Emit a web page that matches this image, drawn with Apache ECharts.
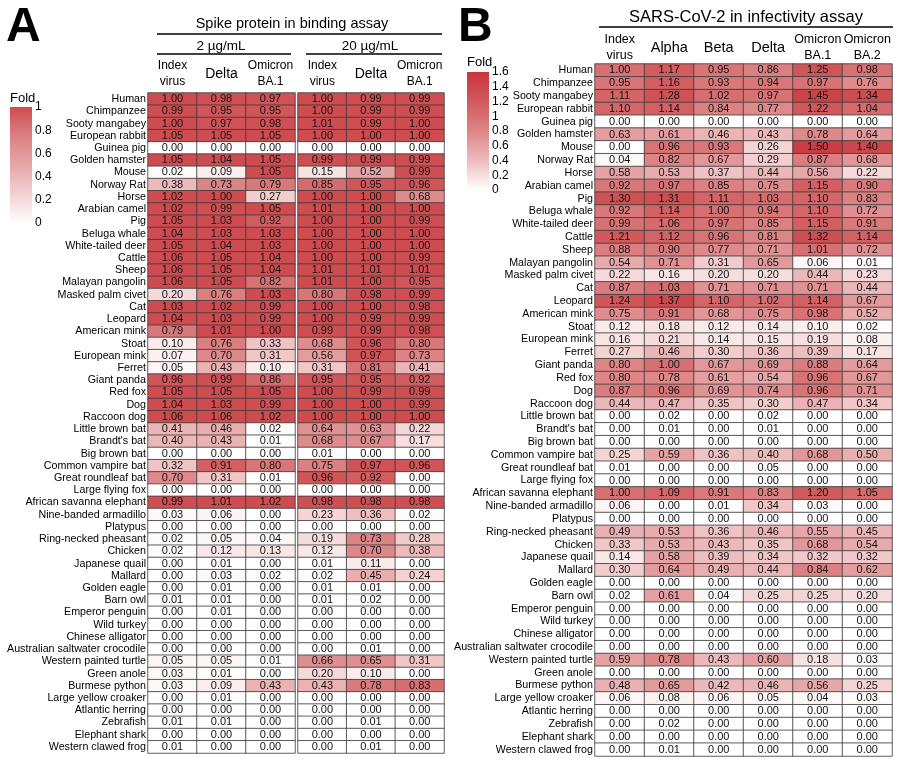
<!DOCTYPE html>
<html><head><meta charset="utf-8">
<script src="https://cdn.jsdelivr.net/npm/echarts@6/dist/echarts.min.js"></script>
<style>html,body{margin:0;padding:0;background:#fff}#c{width:900px;height:759px}</style>
</head><body><div id="c"></div>
<script>
const species = ['Human','Chimpanzee','Sooty mangabey','European rabbit','Guinea pig','Golden hamster','Mouse','Norway Rat','Horse','Arabian camel','Pig','Beluga whale','White-tailed deer','Cattle','Sheep','Malayan pangolin','Masked palm civet','Cat','Leopard','American mink','Stoat','European mink','Ferret','Giant panda','Red fox','Dog','Raccoon dog','Little brown bat',"Brandt's bat",'Big brown bat','Common vampire bat','Great roundleaf bat','Large flying fox','African savanna elephant','Nine-banded armadillo','Platypus','Ring-necked pheasant','Chicken','Japanese quail','Mallard','Golden eagle','Barn owl','Emperor penguin','Wild turkey','Chinese alligator','Australian saltwater crocodile','Western painted turtle','Green anole','Burmese python','Large yellow croaker','Atlantic herring','Zebrafish','Elephant shark','Western clawed frog'];

const colsA = ['Index\nvirus','Delta','Omicron\nBA.1'];
const colsB = ['Index\nvirus','Alpha','Beta','Delta','Omicron\nBA.1','Omicron\nBA.2'];

// Panel A, 2 µg/mL
const a2Index = [1.00,0.99,1.00,1.05,0.00,1.05,0.02,0.38,1.02,1.02,1.05,1.04,1.05,1.06,1.06,1.06,0.20,1.03,1.04,0.79,0.10,0.07,0.05,0.96,1.05,1.04,1.06,0.41,0.40,0.00,0.32,0.70,0.00,0.99,0.03,0.00,0.02,0.02,0.00,0.00,0.00,0.01,0.00,0.00,0.00,0.00,0.05,0.03,0.03,0.00,0.00,0.01,0.00,0.01];
const a2Delta = [0.98,0.95,0.97,1.05,0.00,1.04,0.09,0.73,1.00,0.99,1.03,1.03,1.04,1.05,1.05,1.05,0.76,1.02,1.03,1.01,0.76,0.70,0.43,0.99,1.05,1.03,1.06,0.46,0.43,0.00,0.91,0.31,0.00,1.01,0.06,0.00,0.05,0.12,0.01,0.03,0.01,0.01,0.01,0.00,0.00,0.00,0.05,0.01,0.09,0.01,0.00,0.01,0.00,0.00];
const a2BA1 = [0.97,0.95,0.98,1.05,0.00,1.05,1.05,0.79,0.27,1.05,0.92,1.03,1.03,1.04,1.04,0.82,1.03,0.99,0.99,1.00,0.33,0.31,0.10,0.86,1.05,0.99,1.02,0.02,0.01,0.00,0.80,0.01,0.00,1.02,0.00,0.00,0.04,0.13,0.00,0.02,0.00,0.00,0.00,0.00,0.00,0.00,0.01,0.00,0.43,0.00,0.00,0.00,0.00,0.00];
// Panel A, 20 µg/mL
const a20Index = [1.00,1.00,1.01,1.00,0.00,0.99,0.15,0.85,1.00,1.01,1.00,1.00,1.00,1.00,1.01,1.01,0.80,1.00,1.00,0.99,0.68,0.56,0.31,0.95,1.00,1.00,1.00,0.64,0.68,0.01,0.75,0.96,0.00,0.98,0.23,0.00,0.19,0.12,0.01,0.02,0.01,0.01,0.00,0.00,0.00,0.00,0.66,0.20,0.43,0.00,0.00,0.00,0.00,0.00];
const a20Delta = [0.99,0.99,0.99,1.00,0.00,0.99,0.52,0.95,1.00,1.00,1.00,1.00,1.00,1.00,1.01,1.00,0.98,1.00,0.99,0.99,0.96,0.97,0.81,0.95,0.99,1.00,1.00,0.63,0.67,0.00,0.97,0.92,0.00,0.98,0.36,0.00,0.73,0.70,0.11,0.45,0.01,0.02,0.00,0.00,0.00,0.01,0.65,0.10,0.78,0.00,0.00,0.01,0.00,0.01];
const a20BA1 = [0.99,0.99,1.00,1.00,0.00,0.99,0.99,0.96,0.68,1.00,0.99,1.00,1.00,0.99,1.01,0.95,0.99,0.98,0.99,0.98,0.80,0.73,0.41,0.92,0.99,0.99,1.00,0.22,0.17,0.00,0.96,0.00,0.00,0.98,0.02,0.00,0.28,0.38,0.00,0.24,0.00,0.00,0.00,0.00,0.00,0.00,0.31,0.00,0.83,0.00,0.00,0.00,0.00,0.00];
// Panel B
const bIndex = [1.00,0.95,1.11,1.10,0.00,0.63,0.00,0.04,0.58,0.92,1.30,0.92,0.99,1.21,0.88,0.54,0.22,0.87,1.24,0.75,0.12,0.16,0.27,0.80,0.80,0.87,0.44,0.00,0.00,0.00,0.25,0.01,0.00,1.00,0.06,0.00,0.49,0.33,0.14,0.30,0.00,0.02,0.00,0.00,0.00,0.00,0.59,0.00,0.48,0.06,0.00,0.00,0.00,0.00];
const bAlpha = [1.17,1.16,1.28,1.14,0.00,0.61,0.96,0.82,0.53,0.97,1.31,1.14,1.06,1.12,0.90,0.71,0.16,1.03,1.37,0.91,0.18,0.21,0.46,1.00,0.78,0.96,0.47,0.02,0.01,0.00,0.59,0.00,0.00,1.09,0.00,0.00,0.53,0.53,0.58,0.64,0.00,0.61,0.00,0.00,0.00,0.00,0.78,0.00,0.65,0.08,0.00,0.02,0.00,0.01];
const bBeta = [0.95,0.93,1.02,0.84,0.00,0.46,0.93,0.67,0.37,0.85,1.11,1.00,0.97,0.96,0.77,0.31,0.20,0.71,1.10,0.68,0.12,0.14,0.30,0.67,0.61,0.69,0.35,0.00,0.00,0.00,0.36,0.00,0.00,0.91,0.01,0.00,0.36,0.43,0.39,0.49,0.00,0.04,0.00,0.00,0.00,0.00,0.43,0.00,0.42,0.06,0.00,0.00,0.00,0.00];
const bDelta = [0.86,0.94,0.97,0.77,0.00,0.43,0.26,0.29,0.44,0.75,1.03,0.94,0.85,0.81,0.71,0.65,0.20,0.71,1.02,0.75,0.14,0.15,0.36,0.69,0.54,0.74,0.30,0.02,0.01,0.00,0.40,0.05,0.00,0.83,0.34,0.00,0.46,0.35,0.34,0.44,0.00,0.25,0.00,0.00,0.00,0.00,0.60,0.00,0.46,0.05,0.00,0.00,0.00,0.00];
const bBA1 = [1.25,0.97,1.45,1.22,0.00,0.78,1.50,0.87,0.56,1.15,1.10,1.10,1.15,1.32,1.01,0.06,0.44,0.71,1.14,0.98,0.10,0.19,0.39,0.88,0.96,0.96,0.47,0.00,0.00,0.00,0.68,0.00,0.00,1.20,0.03,0.00,0.55,0.68,0.32,0.84,0.00,0.25,0.00,0.00,0.00,0.00,0.18,0.00,0.56,0.04,0.00,0.00,0.00,0.00];
const bBA2 = [0.98,0.76,1.34,1.04,0.00,0.64,1.40,0.68,0.22,0.90,0.83,0.72,0.91,1.14,0.72,0.01,0.23,0.44,0.67,0.52,0.02,0.08,0.17,0.64,0.67,0.71,0.34,0.00,0.00,0.00,0.50,0.00,0.00,1.05,0.00,0.00,0.45,0.54,0.32,0.62,0.00,0.20,0.00,0.00,0.00,0.00,0.03,0.00,0.25,0.03,0.00,0.00,0.00,0.00];

const foldTicksA = {min: 0, max: 1, interval: 0.2};
const foldTicksB = {min: 0, max: 1.6, interval: 0.2};

const colorA = ['#ffffff','#f3d0d1','#e7a6a8','#db8082','#ce4c50'];
const colorB = ['#ffffff','#edbcbd','#dd8587','#d15a5d','#c63539'];

function cells(cols){
  const out=[];
  cols.forEach((arr,xi)=>arr.forEach((v,yi)=>out.push([xi,yi,v])));
  return out;
}
function gradient(colors){
  const n=colors.length-1;
  return {type:'linear',x:0,y:1,x2:0,y2:0,colorStops:colors.map((c,i)=>({offset:i/n,color:c}))};
}
const FF = '"Liberation Sans", Arial, sans-serif';
function headerFmt(v){
  return v.indexOf('\n')>=0 ? v.split('\n').map(s=>'{t|'+s+'}').join('\n') : '{s|'+v+'}';
}
function catX(gi, data, tSize, sSize, margin){
  return {type:'category', gridIndex:gi, data:data, position:'top',
    axisLine:{show:false}, axisTick:{show:false}, splitLine:{show:false},
    axisLabel:{interval:0, margin:margin, formatter:headerFmt, color:'#000', fontFamily:FF,
      rich:{t:{fontSize:tSize, lineHeight:16, fontFamily:FF, color:'#000'}, s:{fontSize:sSize, lineHeight:32, fontFamily:FF, color:'#000'}}}};
}
function catY(gi, show){
  return {type:'category', gridIndex:gi, data:species, inverse:true,
    axisLine:{show:false}, axisTick:{show:false}, splitLine:{show:false},
    axisLabel:{show:show, interval:0, margin:2, fontSize:10.7, color:'#000', fontFamily:FF}};
}
function heat(xi, yi, data){
  return {type:'heatmap', xAxisIndex:xi, yAxisIndex:yi, data:data,
    itemStyle:{borderColor:'#3a3a3a', borderWidth:0.8},
    label:{show:true, fontSize:11, color:'#111', fontFamily:FF, formatter:p=>p.value[2].toFixed(2)},
    emphasis:{disabled:true}, animation:false};
}
function legendY(gi, t){
  return {type:'value', gridIndex:gi, min:t.min, max:t.max, interval:t.interval, position:'right',
    axisLine:{show:false}, axisTick:{show:false}, splitLine:{show:false},
    axisLabel:{margin:3, fontSize:12, color:'#000', fontFamily:FF}};
}

const option = {
  backgroundColor:'#fff',
  animation:false,
  grid:[
    {left:148, top:93, width:147, height:660},
    {left:298, top:93, width:146, height:660},
    {left:595, top:64, width:297, height:692},
    {left:10, top:107, width:22, height:116},
    {left:467, top:72, width:22, height:118}
  ],
  xAxis:[
    catX(0, colsA, 12, 14, 3),
    catX(1, colsA, 12, 14, 3),
    catX(2, colsB, 12.5, 14.5, 0),
    {type:'category', gridIndex:3, data:['Fold'], show:false},
    {type:'category', gridIndex:4, data:['Fold'], show:false}
  ],
  yAxis:[
    catY(0, true), catY(1, false), catY(2, true),
    legendY(3, foldTicksA), legendY(4, foldTicksB)
  ],
  visualMap:[
    {type:'continuous', show:false, seriesIndex:[0,1], min:foldTicksA.min, max:foldTicksA.max, inRange:{color:colorA}},
    {type:'continuous', show:false, seriesIndex:2, min:foldTicksB.min, max:foldTicksB.max, inRange:{color:colorB}}
  ],
  series:[
    heat(0,0,cells([a2Index,a2Delta,a2BA1])),
    heat(1,1,cells([a20Index,a20Delta,a20BA1])),
    heat(2,2,cells([bIndex,bAlpha,bBeta,bDelta,bBA1,bBA2])),
    {type:'bar', xAxisIndex:3, yAxisIndex:3, data:[foldTicksA.max], barWidth:22, itemStyle:{color:gradient(colorA)}, silent:true},
    {type:'bar', xAxisIndex:4, yAxisIndex:4, data:[foldTicksB.max], barWidth:22, itemStyle:{color:gradient(colorB)}, silent:true}
  ],
  graphic:[
    {type:'text', left:6, top:4, style:{text:'A', font:'bold 48px '+FF, fill:'#000'}},
    {type:'text', left:458, top:4, style:{text:'B', font:'bold 48px '+FF, fill:'#000'}},
    {type:'text', x:292, y:24, style:{text:'Spike protein in binding assay', font:'14.5px '+FF, fill:'#000', textAlign:'center', textVerticalAlign:'middle'}},
    {type:'text', x:221, y:46, style:{text:'2 µg/mL', font:'13.5px '+FF, fill:'#000', textAlign:'center', textVerticalAlign:'middle'}},
    {type:'text', x:370, y:46, style:{text:'20 µg/mL', font:'13.5px '+FF, fill:'#000', textAlign:'center', textVerticalAlign:'middle'}},
    {type:'text', x:746, y:17, style:{text:'SARS-CoV-2 in infectivity assay', font:'16.5px '+FF, fill:'#000', textAlign:'center', textVerticalAlign:'middle'}},
    {type:'text', x:10, y:98, style:{text:'Fold', font:'13px '+FF, fill:'#000', textVerticalAlign:'middle'}},
    {type:'text', x:467, y:62, style:{text:'Fold', font:'13px '+FF, fill:'#000', textVerticalAlign:'middle'}},
    {type:'line', shape:{x1:157,y1:34,x2:442,y2:34}, style:{stroke:'#000', lineWidth:1.5}},
    {type:'line', shape:{x1:157,y1:54,x2:291,y2:54}, style:{stroke:'#000', lineWidth:1.5}},
    {type:'line', shape:{x1:306,y1:54,x2:442,y2:54}, style:{stroke:'#000', lineWidth:1.5}},
    {type:'line', shape:{x1:599,y1:27,x2:893,y2:27}, style:{stroke:'#000', lineWidth:1.5}}
  ]
};
const chart = echarts.init(document.getElementById('c'), null, {renderer:'canvas'});
chart.setOption(option);
</script>
</body></html>
